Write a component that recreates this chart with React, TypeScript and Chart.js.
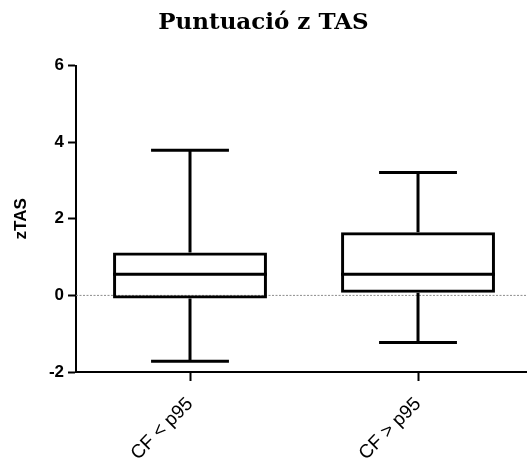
import React, { useEffect, useRef } from "react";
import { Chart, registerables } from "chart.js";

Chart.register(...registerables);

const categories = ["CF < p95", "CF > p95"];
const whiskerMin = [-1.72, -1.23];
const q1 = [-0.08, 0.07];
const median = [0.55, 0.55];
const q3 = [1.12, 1.65];
const whiskerMax = [3.79, 3.21];
const yTickValues = [-2, 0, 2, 4, 6];

const SANS = "'Liberation Sans', Arial, sans-serif";

const boxPlugin = {
  id: "boxWhiskers",
  beforeDatasetsDraw(chart: any) {
    const { ctx, chartArea, scales } = chart;
    const y0 = scales.y.getPixelForValue(0);
    ctx.save();
    ctx.strokeStyle = "#8c8c8c";
    ctx.lineWidth = 1;
    ctx.setLineDash([2, 1.5]);
    ctx.beginPath();
    ctx.moveTo(chartArea.left, y0);
    ctx.lineTo(chartArea.right, y0);
    ctx.stroke();
    ctx.restore();
  },
  afterDatasetsDraw(chart: any) {
    const { ctx, scales } = chart;
    const y = scales.y;
    const meta = chart.getDatasetMeta(0);
    ctx.save();
    ctx.strokeStyle = "#000";
    ctx.lineWidth = 3;
    ctx.lineCap = "butt";
    meta.data.forEach((bar: any, i: number) => {
      const { x, width } = bar.getProps(["x", "width"], true);
      const capHalf = width * 0.253;
      const pMax = y.getPixelForValue(whiskerMax[i]);
      const pMin = y.getPixelForValue(whiskerMin[i]);
      const pQ1 = y.getPixelForValue(q1[i]);
      const pQ3 = y.getPixelForValue(q3[i]);
      const pMed = y.getPixelForValue(median[i]);
      ctx.beginPath();
      ctx.moveTo(x, pQ3);
      ctx.lineTo(x, pMax);
      ctx.moveTo(x - capHalf, pMax);
      ctx.lineTo(x + capHalf, pMax);
      ctx.moveTo(x, pQ1);
      ctx.lineTo(x, pMin);
      ctx.moveTo(x - capHalf, pMin);
      ctx.lineTo(x + capHalf, pMin);
      ctx.moveTo(x - width / 2, pMed);
      ctx.lineTo(x + width / 2, pMed);
      ctx.stroke();
    });
    ctx.restore();
  },
};

export default function App() {
  const ref = useRef<HTMLCanvasElement | null>(null);

  useEffect(() => {
    if (!ref.current) return;
    const chart = new Chart(ref.current, {
      type: "bar",
      data: {
        datasets: [
          {
            data: categories.map((_, i) => ({ x: i, y: [q1[i], q3[i]] })) as any,
            backgroundColor: "rgba(255,255,255,0)",
            borderColor: "#000",
            borderWidth: 3,
            borderSkipped: false,
            barPercentage: 0.675,
            categoryPercentage: 1,
          },
        ],
      },
      options: {
        animation: false,
        responsive: false,
        events: [],
        layout: { padding: { left: 0, right: 0, top: 0, bottom: 0 } },
        plugins: {
          legend: { display: false },
          tooltip: { enabled: false },
          title: {
            display: true,
            text: "Puntuació z TAS",
            color: "#000",
            font: { family: "'DejaVu Serif', serif", weight: "bold", size: 23 },
            padding: { top: 9, bottom: 29 },
          },
        },
        scales: {
          x: {
            type: "linear",
            min: -0.5,
            max: 1.478,
            offset: false,
            afterBuildTicks: (scale: any) => {
              scale.ticks = categories.map((_, i) => ({ value: i }));
            },
            afterFit: (scale: any) => {
              scale.height = 99;
            },
            ticks: {
              color: "#000",
              font: { family: SANS, size: 19 },
              minRotation: 45,
              maxRotation: 45,
              autoSkip: false,
              padding: 12,
              callback: (v: any) => categories[v] ?? "",
            },
            grid: {
              offset: false,
              drawOnChartArea: false,
              drawTicks: true,
              tickLength: 9,
              tickColor: "#000",
              tickWidth: 2,
            },
            border: { display: true, color: "#000", width: 2 },
          },
          y: {
            type: "linear",
            min: -2,
            max: 6,
            afterBuildTicks: (scale: any) => {
              scale.ticks = yTickValues.map((v) => ({ value: v }));
            },
            afterFit: (scale: any) => {
              scale.width = 76;
            },
            ticks: {
              color: "#000",
              font: { family: SANS, size: 17, weight: "bold" },
              padding: 4,
            },
            grid: {
              drawOnChartArea: false,
              drawTicks: true,
              tickLength: 8,
              tickColor: "#000",
              tickWidth: 2,
            },
            border: { display: true, color: "#000", width: 2 },
            title: {
              display: true,
              text: "zTAS",
              color: "#000",
              font: { family: SANS, size: 17, weight: "bold" },
              padding: { top: 11, bottom: 0 },
            },
          },
        },
      } as any,
      plugins: [boxPlugin],
    });
    return () => chart.destroy();
  }, []);

  return (
    <div style={{ position: "fixed", left: 0, top: 0, width: 527, height: 471, background: "#fff" }}>
      <canvas ref={ref} width={527} height={471} />
    </div>
  );
}
